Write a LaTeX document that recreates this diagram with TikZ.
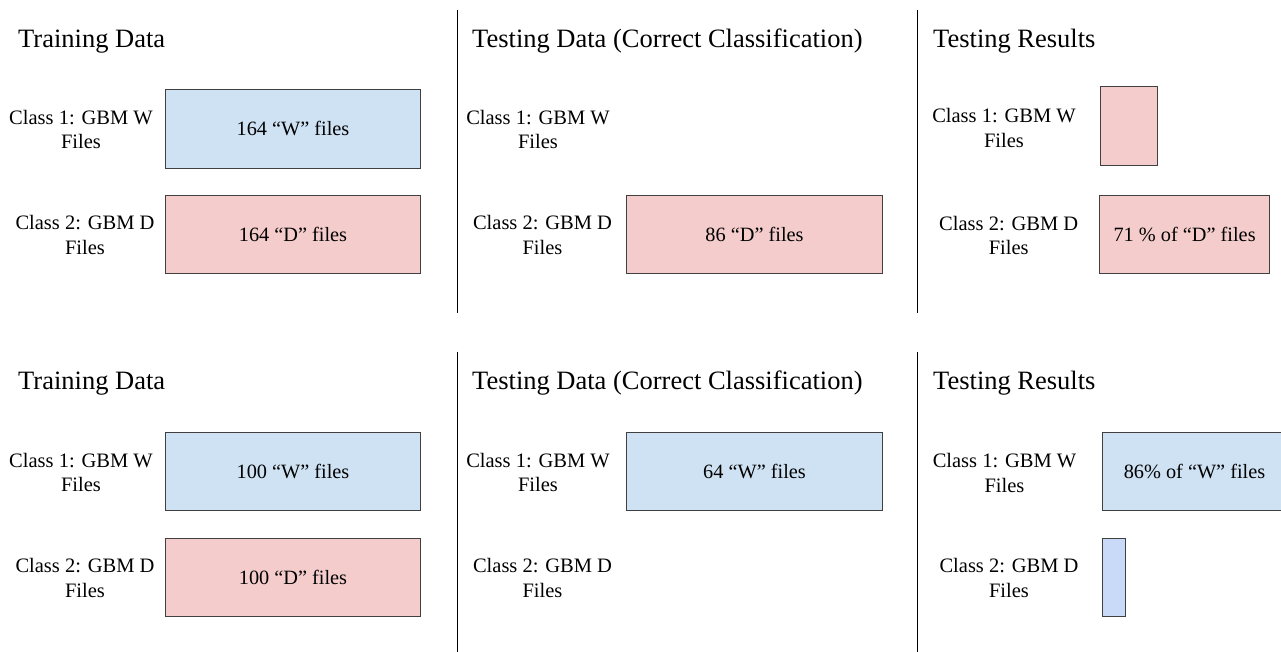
\documentclass[tikz,border=0pt]{standalone}
\usepackage{fontspec}
\setmainfont{Liberation Serif}
\definecolor{wblue}{HTML}{CFE2F3}
\definecolor{dpink}{HTML}{F4CCCC}
\definecolor{sblue}{HTML}{C9DAF8}
\definecolor{edge}{HTML}{404040}
\begin{document}
\begin{tikzpicture}[x=1pt,y=-1pt,
  title/.style={anchor=base west,inner sep=0pt,font=\fontsize{26.5}{30}\selectfont},
  cls/.style={align=center,inner sep=0pt,font=\fontsize{20.5}{24.5}\selectfont},
  bar/.style={draw=edge,line width=1pt,rectangle,inner sep=0pt,font=\fontsize{20.3}{24}\selectfont},
  divider/.style={line width=1.3pt,black}]
\useasboundingbox (0,0) rectangle (1281,651);
% dividers
\coordinate (d1a) at (457.3,10);   \coordinate (d1b) at (457.3,312.7);
\coordinate (d2a) at (917.3,10);   \coordinate (d2b) at (917.3,312.7);
\coordinate (d3a) at (457.3,351.7);\coordinate (d3b) at (457.3,652);
\coordinate (d4a) at (917.3,351.7);\coordinate (d4b) at (917.3,652);
\draw[divider] (d1a) -- (d1b);
\draw[divider] (d2a) -- (d2b);
\draw[divider] (d3a) -- (d3b);
\draw[divider] (d4a) -- (d4b);
% ===== top row =====
\node[title] (t1) at (18,47) {Training Data};
\node[title] (t2) at (472,47) {Testing Data (Correct Classification)};
\node[title] (t3) at (933,47) {Testing Results};
\node[cls] (l11) at (81,129.5) {Class 1: GBM W\\Files};
\node[cls] (l12) at (85,235) {Class 2: GBM D\\Files};
\node[bar,fill=wblue,minimum width=254.6pt,minimum height=78.7pt] (b11) at (293,128.7) {164 “W” files};
\node[bar,fill=dpink,minimum width=254.6pt,minimum height=78.7pt] (b12) at (293,234.4) {164 “D” files};
\node[cls] (l21) at (538,129.5) {Class 1: GBM W\\Files};
\node[cls] (l22) at (542.5,235) {Class 2: GBM D\\Files};
\node[bar,fill=dpink,minimum width=255.6pt,minimum height=78.7pt] (b22) at (754.5,234.4) {86 “D” files};
\node[cls] (l31) at (1004,128) {Class 1: GBM W\\Files};
\node[cls] (l32) at (1008.7,235.5) {Class 2: GBM D\\Files};
\node[bar,fill=dpink,minimum width=57.7pt,minimum height=78.6pt] (b31) at (1128.9,126) {};
\node[bar,fill=dpink,minimum width=169.3pt,minimum height=78.3pt] (b32) at (1184.6,234.2) {71 \% of “D” files};
% ===== bottom row =====
\node[title] (t4) at (18,389) {Training Data};
\node[title] (t5) at (472,389) {Testing Data (Correct Classification)};
\node[title] (t6) at (933,389) {Testing Results};
\node[cls] (l41) at (81,472.5) {Class 1: GBM W\\Files};
\node[cls] (l42) at (85,578) {Class 2: GBM D\\Files};
\node[bar,fill=wblue,minimum width=254.6pt,minimum height=78.3pt] (b41) at (293,471.8) {100 “W” files};
\node[bar,fill=dpink,minimum width=254.6pt,minimum height=78.4pt] (b42) at (293,577.5) {100 “D” files};
\node[cls] (l51) at (538,472.5) {Class 1: GBM W\\Files};
\node[cls] (l52) at (542.5,578) {Class 2: GBM D\\Files};
\node[bar,fill=wblue,minimum width=255.6pt,minimum height=78.3pt] (b51) at (754.5,471.8) {64 “W” files};
\node[cls] (l61) at (1004.5,473) {Class 1: GBM W\\Files};
\node[cls] (l62) at (1009,578) {Class 2: GBM D\\Files};
\node[bar,fill=wblue,minimum width=185pt,minimum height=78.3pt] (b61) at (1194.5,471.8) {86\% of “W” files};
\node[bar,fill=sblue,minimum width=23.7pt,minimum height=78.4pt] (b62) at (1113.9,577.5) {};
\end{tikzpicture}
\end{document}
